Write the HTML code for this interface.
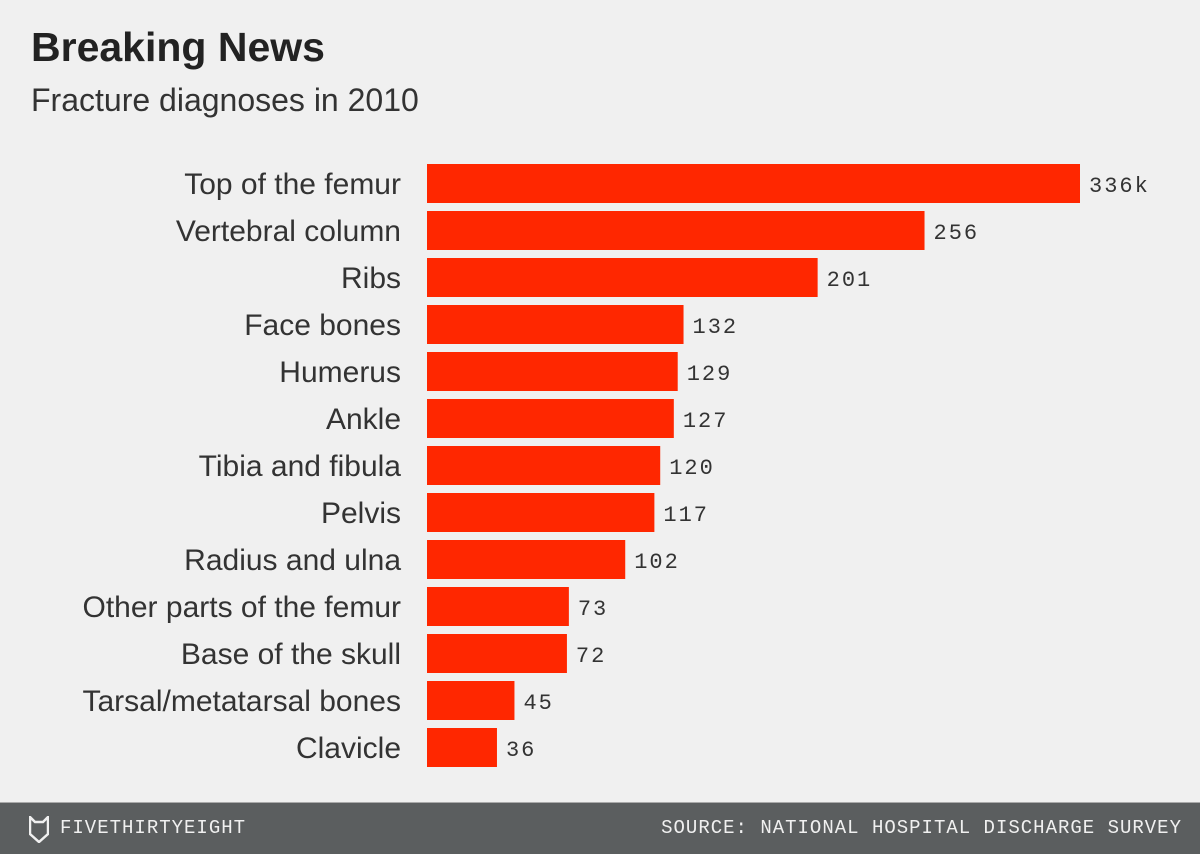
<!DOCTYPE html>
<html><head><meta charset="utf-8"><style>
body{margin:0;width:1200px;height:853px;background:#f0f0f0;font-family:"Liberation Sans",sans-serif;overflow:hidden;position:relative}
#title{position:absolute;left:31px;top:24px;font-size:41px;font-weight:bold;color:#222;margin:0}
#sub{position:absolute;left:31px;top:82px;font-size:32px;color:#333}
#footer{position:absolute;left:0;top:802px;width:1200px;height:51px;background:#5b5e5f;border-top:1px solid #aaa;color:#f0f0f0;font-family:"Liberation Mono",monospace}
.ft{position:absolute;top:14px;font-size:19px;letter-spacing:1px}
</style></head><body>
<div id="title">Breaking News</div>
<div id="sub">Fracture diagnoses in 2010</div>
<svg id="chart" width="1200" height="800" style="position:absolute;left:0;top:0"></svg>
<div id="footer">
<svg style="position:absolute;left:29px;top:13px" width="20" height="27"><path d="M1 1 L6 6 L14 6 L19 1 L19 18 L10 26 L1 18 Z" fill="none" stroke="#f0f0f0" stroke-width="2.5"/></svg>
<span class="ft" style="left:60px">FIVETHIRTYEIGHT</span>
<span class="ft" style="right:18px">SOURCE: NATIONAL HOSPITAL DISCHARGE SURVEY</span>
</div>
<script>
const categories=["Top of the femur","Vertebral column","Ribs","Face bones","Humerus","Ankle","Tibia and fibula","Pelvis","Radius and ulna","Other parts of the femur","Base of the skull","Tarsal/metatarsal bones","Clavicle"];
const values=[336,256,201,132,129,127,120,117,102,73,72,45,36];
const valueLabels=["336k","256","201","132","129","127","120","117","102","73","72","45","36"];
const svg=document.getElementById('chart');
const NS='http://www.w3.org/2000/svg';
const x0=427,xMax=336,wMax=653;
const xScale=v=>v/xMax*wMax;
const yScale=i=>164+i*47;
const bh=39;
categories.forEach((c,i)=>{
  const y=yScale(i);
  const r=document.createElementNS(NS,'rect');
  r.setAttribute('x',x0);r.setAttribute('y',y);r.setAttribute('width',xScale(values[i]));r.setAttribute('height',bh);r.setAttribute('fill','#ff2700');
  
  
  svg.appendChild(r);
  const t=document.createElementNS(NS,'text');
  t.setAttribute('x',401);t.setAttribute('y',y+30);t.setAttribute('text-anchor','end');
  t.setAttribute('font-size','30');t.setAttribute('fill','#333');t.setAttribute('font-family','Liberation Sans, sans-serif');
  t.textContent=c;
  
  
  svg.appendChild(t);
  const v=document.createElementNS(NS,'text');
  v.setAttribute('x',x0+xScale(values[i])+9);v.setAttribute('y',y+28);
  v.setAttribute('font-size','22');v.setAttribute('fill','#333');v.setAttribute('font-family','Liberation Mono, monospace');v.setAttribute('letter-spacing','2');
  v.textContent=valueLabels[i];
  
  
  svg.appendChild(v);
});
</script>
</body></html>
